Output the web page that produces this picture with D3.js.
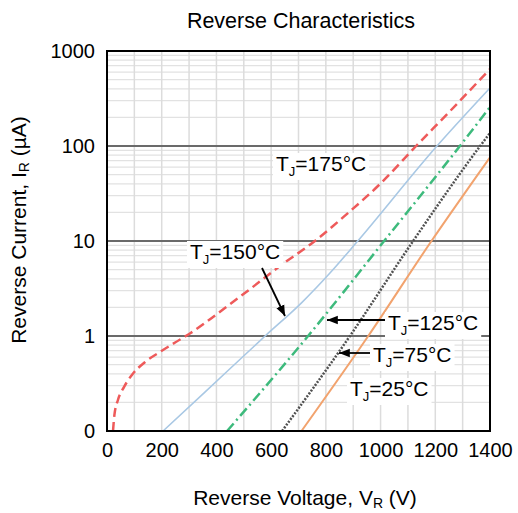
<!DOCTYPE html>
<html>
<head>
<meta charset="utf-8">
<script src="https://cdn.jsdelivr.net/npm/d3@7"></script>
<style>
  body { margin: 0; background: #fff; }
  text { font-family: "Liberation Sans", Arial, sans-serif; fill: #000; }
</style>
</head>
<body>
<script>
// ---- data (V in volts, I in µA) ----
const xTicks = [0, 200, 400, 600, 800, 1000, 1200, 1400];
const yTicks = [0.1, 1, 10, 100, 1000];
const yTickLabels = ["0", "1", "10", "100", "1000"];

const v175 = [22, 27, 40, 62, 91, 139, 194, 249, 303, 358, 431, 523, 632, 760, 870, 998, 1130, 1254, 1400];
const i175 = [0.1, 0.147, 0.212, 0.29, 0.389, 0.532, 0.68, 0.854, 1.063, 1.37, 1.97, 3.12, 5.45, 10, 18.5, 39.8, 100, 233, 646];

const v150 = [205, 358, 578, 710, 815, 914, 1206, 1400];
const i150 = [0.1, 0.257, 1, 2.22, 4.6, 9.8, 100, 409];

const v125 = [439, 735, 1013, 1290, 1400];
const i125 = [0.1, 1, 10, 100, 257];

const v75 = [640, 888, 1119, 1364, 1400];
const i75 = [0.1, 1, 10, 100, 137];

const v25 = [711, 955, 1186, 1400];
const i25 = [0.1, 1, 10, 76];

function main(){
    const W = 518, H = 513;
    const left = 107, top = 51, width = 383, height = 380;

    const svg = d3.select("body").append("svg")
        .attr("width", W)
        .attr("height", H);

    const x = d3.scaleLinear().domain([0, 1400]).range([0, width]);
    const y = d3.scaleLog().domain([0.1, 1000]).range([height, 0]);

    const g = svg.append("g").attr("transform", "translate(" + left + "," + top + ")");

    // minor grid
    const minorY = [];
    for (let d = 0.1; d < 1000; d *= 10) {
        for (let k = 2; k <= 9; k++) minorY.push(d * k);
    }
    g.selectAll(".minY").data(minorY).join("line")
        .attr("x1", 0).attr("x2", width)
        .attr("y1", d => y(d)).attr("y2", d => y(d))
        .attr("stroke", "#e2e2e2").attr("stroke-width", 1.2);

    g.selectAll(".minX").data(d3.range(100, 1400, 100)).join("line")
        .attr("y1", 0).attr("y2", height)
        .attr("x1", d => x(d)).attr("x2", d => x(d))
        .attr("stroke", "#dcdcdc").attr("stroke-width", 1.5);

    // major decade lines
    g.selectAll(".majY").data([1, 10, 100]).join("line")
        .attr("x1", 0).attr("x2", width)
        .attr("y1", d => y(d)).attr("y2", d => y(d))
        .attr("stroke", "#6a6a6a").attr("stroke-width", 2);

    // curves
    const series = [
        {v: v175, i: i175, color: "#ee5a5a", w: 2.5, dash: "9,5"},
        {v: v150, i: i150, color: "#a9c8e4", w: 1.6, dash: null},
        {v: v125, i: i125, color: "#3dba7c", w: 2.5, dash: "10,4,2,4"},
        {v: v75,  i: i75,  color: "#505050", w: 2.5, dash: "2,1.5"},
        {v: v25,  i: i25,  color: "#f2a36e", w: 2, dash: null}
    ];
    const line = d3.line()
        .x(d => x(d[0]))
        .y(d => y(d[1]))
        .curve(d3.curveMonotoneX);

    series.forEach(s => {
        g.append("path")
            .datum(d3.zip(s.v, s.i))
            .attr("d", line)
            .attr("fill", "none")
            .attr("stroke", s.color)
            .attr("stroke-width", s.w)
            .attr("stroke-dasharray", s.dash);
    });

    // border
    g.append("rect")
        .attr("width", width).attr("height", height)
        .attr("fill", "none").attr("stroke", "#000").attr("stroke-width", 2);

    // axes (labels only)
    const xAxis = g.append("g")
        .attr("transform", "translate(0," + height + ")")
        .call(d3.axisBottom(x).tickValues(xTicks).tickSize(0).tickPadding(12).tickFormat(d3.format("d")));
    xAxis.select(".domain").remove();
    xAxis.selectAll("text")
        .style("font-size", "20px")
        .style("font-family", "Liberation Sans, Arial, sans-serif")
        .attr("fill", "#000");

    const yAxis = g.append("g")
        .call(d3.axisLeft(y).tickValues(yTicks).tickSize(0).tickPadding(12)
            .tickFormat((d, i) => yTickLabels[i]));
    yAxis.select(".domain").remove();
    yAxis.selectAll("text")
        .style("font-size", "20px")
        .style("font-family", "Liberation Sans, Arial, sans-serif")
        .attr("fill", "#000");

    // title
    svg.append("text")
        .attr("x", 301).attr("y", 28)
        .attr("text-anchor", "middle")
        .attr("font-size", "21.5px")
        .text("Reverse Characteristics");

    // x axis title
    const xt = svg.append("text")
        .attr("x", 305).attr("y", 505)
        .attr("text-anchor", "middle")
        .attr("font-size", "21px");
    xt.append("tspan").text("Reverse Voltage, V");
    xt.append("tspan").attr("font-size", "14px").attr("dy", 3).text("R");
    xt.append("tspan").attr("dy", -3).text(" (V)");

    // y axis title
    const yt = svg.append("text")
        .attr("transform", "translate(26,230) rotate(-90)")
        .attr("text-anchor", "middle")
        .attr("font-size", "21px");
    yt.append("tspan").text("Reverse Current, I");
    yt.append("tspan").attr("font-size", "14px").attr("dy", 3).text("R");
    yt.append("tspan").attr("dy", -3).text(" (µA)");

    // annotations
    const labels = [
        {t: "175", x: 276, y: 171},
        {t: "150", x: 190, y: 259},
        {t: "125", x: 388, y: 330},
        {t: "75",  x: 373, y: 362},
        {t: "25",  x: 350, y: 396}
    ];
    labels.forEach(l => {
        const grp = svg.append("g");
        const bg = grp.append("rect").attr("fill", "#fff");
        const tx = grp.append("text")
            .attr("x", l.x).attr("y", l.y)
            .attr("font-size", "21px");
        tx.append("tspan").text("T");
        tx.append("tspan").attr("font-size", "13px").attr("dy", 5).text("J");
        tx.append("tspan").attr("dy", -5).text("=" + l.t + "°C");
        const b = tx.node().getBBox();
        bg.attr("x", b.x - 3).attr("y", b.y + 1)
          .attr("width", b.width + 6).attr("height", b.height);
    });

    // arrows
    const defs = svg.append("defs");
    defs.append("marker")
        .attr("id", "ah")
        .attr("viewBox", "0 0 10 10")
        .attr("refX", 10).attr("refY", 5)
        .attr("markerWidth", 6).attr("markerHeight", 6)
        .attr("markerUnits", "strokeWidth")
        .attr("orient", "auto")
        .append("path").attr("d", "M0,1 L10,5 L0,9 Z").attr("fill", "#000");

    const arrows = [
        [262, 268, 285, 316],
        [385, 320, 327, 320],
        [370, 353, 339, 353]
    ];
    svg.selectAll(".arr").data(arrows).join("line")
        .attr("x1", d => d[0]).attr("y1", d => d[1])
        .attr("x2", d => d[2]).attr("y2", d => d[3])
        .attr("stroke", "#000").attr("stroke-width", 1.8)
        .attr("marker-end", "url(#ah)");
}
main();
</script>
</body>
</html>
